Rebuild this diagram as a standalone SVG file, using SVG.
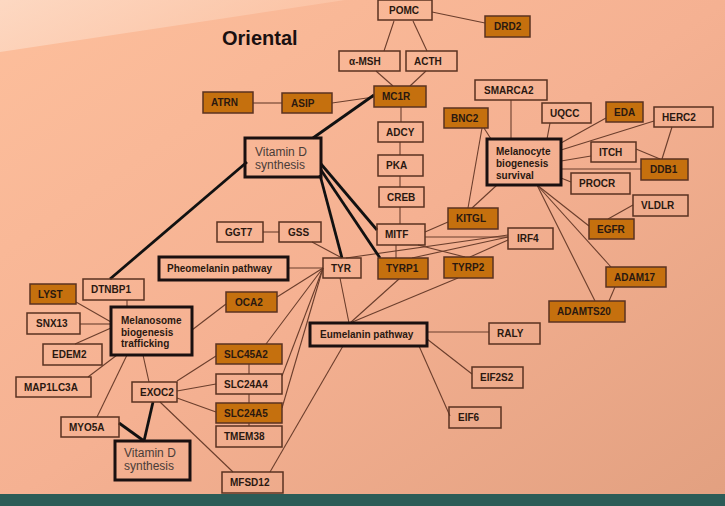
<svg xmlns="http://www.w3.org/2000/svg" width="725" height="506" viewBox="0 0 725 506">
<defs>
<linearGradient id="bg" x1="0" y1="0" x2="1" y2="1">
<stop offset="0" stop-color="#fdbf9c"/>
<stop offset="0.5" stop-color="#f5b192"/>
<stop offset="1" stop-color="#e2a080"/>
</linearGradient>
<linearGradient id="wedge" x1="0" y1="0" x2="1" y2="0.3">
<stop offset="0" stop-color="#fde3d2"/>
<stop offset="1" stop-color="#fcc6a8"/>
</linearGradient>
<style>
.n rect{fill:none;stroke:#5a3220;stroke-width:1.5}
.n.o rect{fill:#c5700e}
.n text{font-family:"Liberation Sans",Arial,sans-serif;font-weight:bold;font-size:10px;fill:#2a1810}
.t rect{fill:none;stroke:#1a1010;stroke-width:3}
.t text{font-family:"Liberation Sans",Arial,sans-serif;font-weight:bold;font-size:10px;fill:#2a1810}
.v rect{fill:none;stroke:#1a1010;stroke-width:3}
.v text{font-family:"Liberation Sans",Arial,sans-serif;font-size:12px;fill:#4a3c38}
#edges line{stroke:#6b3e2c;stroke-width:1.1}
#edges line.k{stroke:#111;stroke-width:2.8}
</style>
</defs>
<rect x="0" y="0" width="725" height="506" fill="url(#bg)"/>
<polygon points="0,0 345,0 0,52" fill="url(#wedge)" opacity="0.7"/>
<rect x="0" y="494" width="725" height="12" fill="#2c5c57"/>
<text x="222" y="45" font-family="'Liberation Sans',Arial,sans-serif" font-weight="bold" font-size="20" fill="#1a1010">Oriental</text>
<g id="edges">
<line x1="432" y1="12" x2="485" y2="23"/>
<line x1="394" y1="21" x2="384" y2="51"/>
<line x1="413" y1="21" x2="427" y2="51"/>
<line x1="376" y1="71" x2="393" y2="86"/>
<line x1="426" y1="71" x2="410" y2="86"/>
<line x1="253" y1="103" x2="282" y2="103"/>
<line x1="332" y1="103" x2="374" y2="97"/>
<line x1="401" y1="107" x2="401" y2="122"/>
<line x1="400" y1="142" x2="400" y2="155"/>
<line x1="400" y1="176" x2="400" y2="187"/>
<line x1="400" y1="207" x2="400" y2="224"/>
<line x1="396" y1="245" x2="396" y2="258"/>
<line x1="418" y1="245" x2="465" y2="257"/>
<line x1="425" y1="232" x2="448" y2="222"/>
<line x1="425" y1="237" x2="508" y2="237"/>
<line x1="508" y1="235" x2="346" y2="258"/>
<line x1="508" y1="237" x2="412" y2="258"/>
<line x1="508" y1="240" x2="470" y2="257"/>
<line x1="263" y1="232" x2="279" y2="232"/>
<line x1="312" y1="242" x2="342" y2="258"/>
<line x1="288" y1="268" x2="323" y2="268"/>
<line x1="340" y1="278" x2="349" y2="323"/>
<line x1="399" y1="279" x2="350" y2="323"/>
<line x1="458" y1="278" x2="350" y2="323"/>
<line x1="323" y1="268" x2="277" y2="297"/>
<line x1="323" y1="268" x2="266" y2="344"/>
<line x1="323" y1="268" x2="282" y2="376"/>
<line x1="323" y1="268" x2="282" y2="408"/>
<line x1="343" y1="346" x2="270" y2="472"/>
<line x1="427" y1="332" x2="489" y2="332"/>
<line x1="427" y1="339" x2="472" y2="374"/>
<line x1="419" y1="346" x2="450" y2="416"/>
<line x1="127" y1="300" x2="127" y2="307"/>
<line x1="76" y1="302" x2="111" y2="322"/>
<line x1="80" y1="324" x2="111" y2="324"/>
<line x1="75" y1="344" x2="111" y2="328"/>
<line x1="88" y1="377" x2="117" y2="355"/>
<line x1="97" y1="417" x2="127" y2="355"/>
<line x1="143" y1="355" x2="149" y2="382"/>
<line x1="192" y1="330" x2="226" y2="304"/>
<line x1="177" y1="381" x2="216" y2="356"/>
<line x1="177" y1="391" x2="216" y2="384"/>
<line x1="177" y1="398" x2="216" y2="412"/>
<line x1="160" y1="402" x2="233" y2="472"/>
<line x1="249" y1="364" x2="249" y2="374"/>
<line x1="249" y1="394" x2="249" y2="403"/>
<line x1="249" y1="423" x2="249" y2="426"/>
<line x1="511" y1="100" x2="511" y2="139"/>
<line x1="550" y1="123" x2="547" y2="139"/>
<line x1="606" y1="118" x2="561" y2="143"/>
<line x1="654" y1="121" x2="561" y2="150"/>
<line x1="591" y1="156" x2="561" y2="161"/>
<line x1="561" y1="169" x2="641" y2="169"/>
<line x1="561" y1="178" x2="571" y2="182"/>
<line x1="636" y1="149" x2="660" y2="159"/>
<line x1="672" y1="127" x2="662" y2="159"/>
<line x1="484" y1="128" x2="491" y2="139"/>
<line x1="482" y1="128" x2="468" y2="208"/>
<line x1="472" y1="208" x2="497" y2="185"/>
<line x1="537" y1="185" x2="589" y2="226"/>
<line x1="537" y1="185" x2="611" y2="267"/>
<line x1="537" y1="185" x2="595" y2="301"/>
<line x1="615" y1="287" x2="609" y2="301"/>
<line x1="633" y1="205" x2="608" y2="219"/>
<line class="k" x1="374" y1="95" x2="313" y2="138"/>
<line class="k" x1="247" y1="162" x2="110" y2="279"/>
<line class="k" x1="321" y1="164" x2="377" y2="230"/>
<line class="k" x1="321" y1="170" x2="380" y2="258"/>
<line class="k" x1="320" y1="175" x2="342" y2="258"/>
<line class="k" x1="153" y1="402" x2="144" y2="441"/>
<line class="k" x1="119" y1="423" x2="144" y2="441"/>
</g>
<g id="POMC" class="n"><rect x="378" y="0" width="54" height="20"/><text x="389" y="14">POMC</text></g>
<g id="DRD2" class="n o"><rect x="485" y="16" width="45" height="21"/><text x="494" y="30">DRD2</text></g>
<g id="aMSH" class="n"><rect x="339" y="51" width="61" height="20"/><text x="349" y="65">α-MSH</text></g>
<g id="ACTH" class="n"><rect x="406" y="51" width="51" height="20"/><text x="414" y="65">ACTH</text></g>
<g id="MC1R" class="n o"><rect x="374" y="86" width="52" height="21"/><text x="382" y="100">MC1R</text></g>
<g id="ASIP" class="n o"><rect x="282" y="93" width="50" height="20"/><text x="291" y="107">ASIP</text></g>
<g id="ATRN" class="n o"><rect x="203" y="92" width="50" height="21"/><text x="211" y="106">ATRN</text></g>
<g id="SMARCA2" class="n"><rect x="475" y="80" width="72" height="20"/><text x="484" y="94">SMARCA2</text></g>
<g id="UQCC" class="n"><rect x="542" y="103" width="49" height="20"/><text x="550" y="117">UQCC</text></g>
<g id="EDA" class="n o"><rect x="606" y="102" width="37" height="20"/><text x="614" y="116">EDA</text></g>
<g id="HERC2" class="n"><rect x="654" y="107" width="59" height="20"/><text x="662" y="121">HERC2</text></g>
<g id="BNC2" class="n o"><rect x="444" y="108" width="44" height="20"/><text x="451" y="122">BNC2</text></g>
<g id="ADCY" class="n"><rect x="378" y="122" width="45" height="20"/><text x="386" y="136">ADCY</text></g>
<g id="PKA" class="n"><rect x="378" y="155" width="45" height="21"/><text x="386" y="169">PKA</text></g>
<g id="CREB" class="n"><rect x="379" y="187" width="45" height="20"/><text x="387" y="201">CREB</text></g>
<g id="MITF" class="n"><rect x="377" y="224" width="48" height="21"/><text x="385" y="238">MITF</text></g>
<g id="VitD1" class="v"><rect x="245" y="138" width="76" height="39"/><text x="255" y="156">Vitamin D</text><text x="255" y="169">synthesis</text></g>
<g id="GGT7" class="n"><rect x="217" y="222" width="46" height="20"/><text x="225" y="236">GGT7</text></g>
<g id="GSS" class="n"><rect x="279" y="222" width="42" height="20"/><text x="288" y="236">GSS</text></g>
<g id="Pheo" class="t"><rect x="159" y="257" width="129" height="23"/><text x="167" y="272">Pheomelanin pathway</text></g>
<g id="TYR" class="n"><rect x="323" y="258" width="38" height="20"/><text x="331" y="272">TYR</text></g>
<g id="TYRP1" class="n o"><rect x="378" y="258" width="50" height="21"/><text x="386" y="272">TYRP1</text></g>
<g id="TYRP2" class="n o"><rect x="444" y="257" width="49" height="21"/><text x="452" y="271">TYRP2</text></g>
<g id="KITGL" class="n o"><rect x="448" y="208" width="50" height="21"/><text x="456" y="222">KITGL</text></g>
<g id="IRF4" class="n"><rect x="508" y="228" width="45" height="21"/><text x="517" y="242">IRF4</text></g>
<g id="MelSurv" class="t"><rect x="487" y="139" width="74" height="46"/><text x="496" y="155">Melanocyte</text><text x="496" y="167">biogenesis</text><text x="496" y="179">survival</text></g>
<g id="ITCH" class="n"><rect x="591" y="142" width="45" height="20"/><text x="599" y="156">ITCH</text></g>
<g id="DDB1" class="n o"><rect x="641" y="159" width="47" height="21"/><text x="650" y="173">DDB1</text></g>
<g id="PROCR" class="n"><rect x="571" y="173" width="59" height="21"/><text x="579" y="187">PROCR</text></g>
<g id="VLDLR" class="n"><rect x="633" y="195" width="55" height="21"/><text x="641" y="209">VLDLR</text></g>
<g id="EGFR" class="n o"><rect x="589" y="219" width="45" height="20"/><text x="597" y="233">EGFR</text></g>
<g id="ADAM17" class="n o"><rect x="606" y="267" width="60" height="20"/><text x="614" y="281">ADAM17</text></g>
<g id="ADAMTS20" class="n o"><rect x="549" y="301" width="76" height="21"/><text x="557" y="315">ADAMTS20</text></g>
<g id="Eume" class="t"><rect x="310" y="323" width="117" height="23"/><text x="320" y="338">Eumelanin pathway</text></g>
<g id="RALY" class="n"><rect x="489" y="323" width="51" height="21"/><text x="497" y="337">RALY</text></g>
<g id="EIF2S2" class="n"><rect x="472" y="367" width="51" height="21"/><text x="480" y="381">EIF2S2</text></g>
<g id="EIF6" class="n"><rect x="449" y="407" width="52" height="21"/><text x="458" y="421">EIF6</text></g>
<g id="LYST" class="n o"><rect x="30" y="284" width="46" height="20"/><text x="38" y="298">LYST</text></g>
<g id="DTNBP1" class="n"><rect x="83" y="279" width="61" height="21"/><text x="91" y="293">DTNBP1</text></g>
<g id="SNX13" class="n"><rect x="27" y="313" width="53" height="21"/><text x="36" y="327">SNX13</text></g>
<g id="MelTraf" class="t"><rect x="111" y="307" width="81" height="48"/><text x="121" y="324">Melanosome</text><text x="121" y="335.5">biogenesis</text><text x="121" y="347">trafficking</text></g>
<g id="EDEM2" class="n"><rect x="43" y="344" width="59" height="21"/><text x="52" y="358">EDEM2</text></g>
<g id="MAP1LC3A" class="n"><rect x="16" y="377" width="75" height="20"/><text x="24" y="391">MAP1LC3A</text></g>
<g id="EXOC2" class="n"><rect x="132" y="382" width="45" height="20"/><text x="140" y="396">EXOC2</text></g>
<g id="MYO5A" class="n"><rect x="61" y="417" width="58" height="20"/><text x="69" y="431">MYO5A</text></g>
<g id="VitD2" class="v"><rect x="115" y="441" width="75" height="39"/><text x="124" y="457">Vitamin D</text><text x="124" y="470">synthesis</text></g>
<g id="OCA2" class="n o"><rect x="226" y="292" width="51" height="20"/><text x="235" y="306">OCA2</text></g>
<g id="SLC45A2" class="n o"><rect x="216" y="344" width="66" height="20"/><text x="224" y="358">SLC45A2</text></g>
<g id="SLC24A4" class="n"><rect x="216" y="374" width="66" height="20"/><text x="224" y="388">SLC24A4</text></g>
<g id="SLC24A5" class="n o"><rect x="216" y="403" width="66" height="20"/><text x="224" y="417">SLC24A5</text></g>
<g id="TMEM38" class="n"><rect x="216" y="426" width="66" height="21"/><text x="224" y="440">TMEM38</text></g>
<g id="MFSD12" class="n"><rect x="222" y="472" width="61" height="21"/><text x="230" y="486">MFSD12</text></g>
</svg>
